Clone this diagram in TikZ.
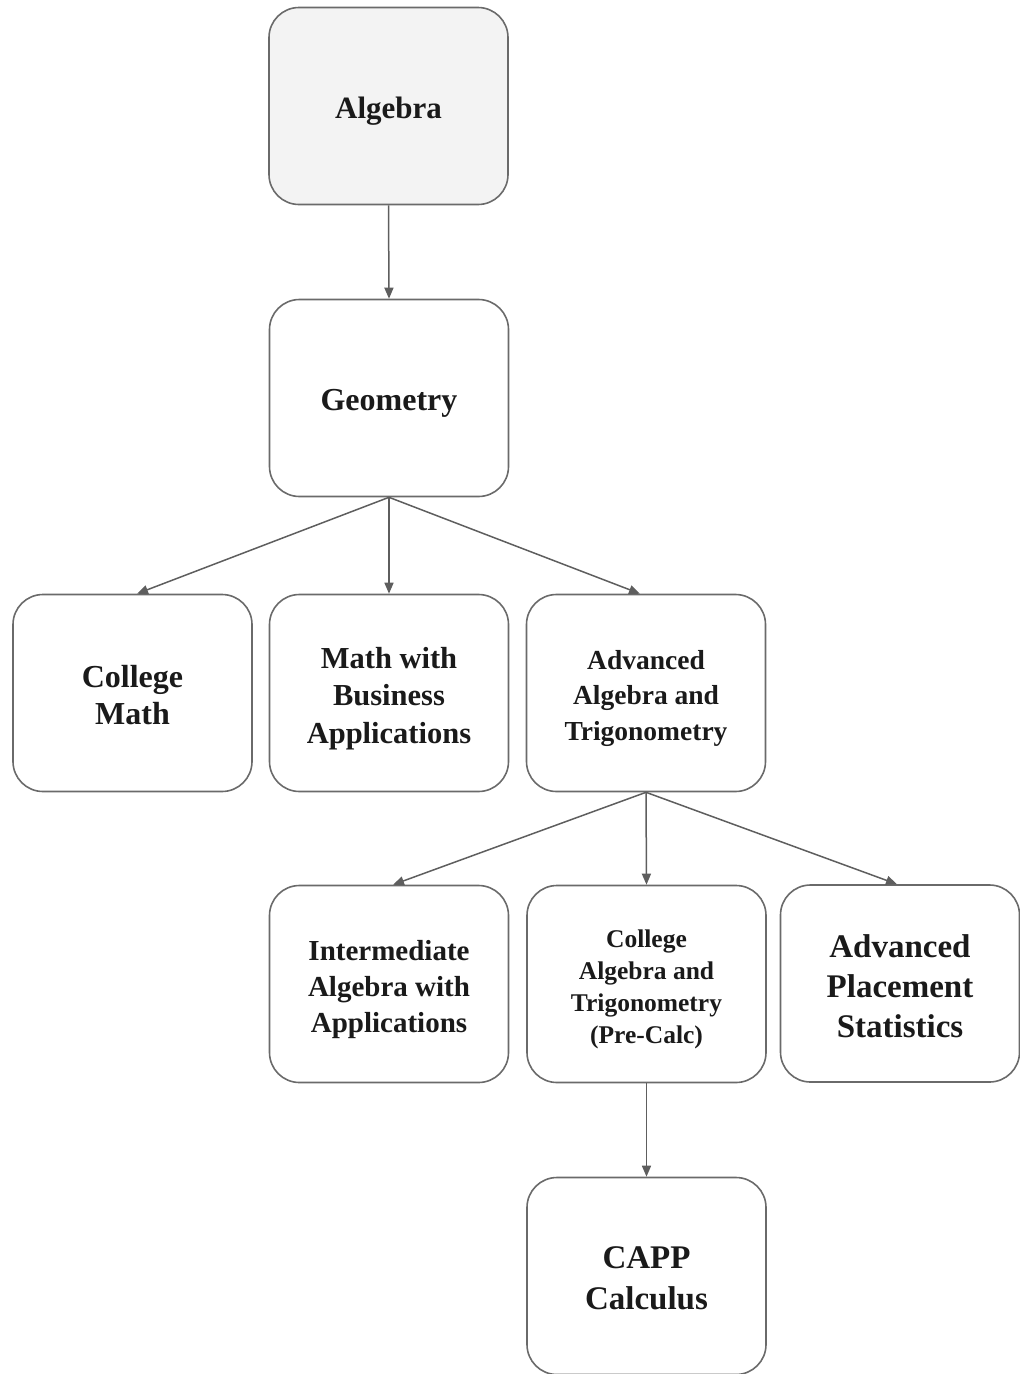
\documentclass[tikz,border=0pt]{standalone}
\usepackage{fontspec}
\setmainfont{Liberation Serif}
\usetikzlibrary{arrows.meta}
\definecolor{edgegray}{HTML}{6A6A6A}
\definecolor{arrowgray}{HTML}{5E5E5E}
\definecolor{textdark}{HTML}{1A1A1A}
\definecolor{topfill}{HTML}{F3F3F3}
\newcommand\fsz[2]{\fontsize{#1}{#2}\selectfont\bfseries}
\tikzset{
  course/.style={draw=edgegray, line width=1.6pt, rounded corners=30pt,
    minimum width=239pt, minimum height=197pt, fill=white, inner sep=0pt},
  txt/.style={align=center, text=textdark, inner sep=0pt},
  link/.style={draw=arrowgray, line width=1.5pt,
    -{Triangle[length=11pt,width=9pt]}}
}
\begin{document}
\begin{tikzpicture}[x=1pt,y=-1pt]
\useasboundingbox (0,0) rectangle (1020,1374);
\node[course, fill=topfill] (alg) at (388.5,106) {};
\node[course] (geo) at (389,398) {};
\node[course] (cm) at (132.5,693) {};
\node[course] (mb) at (389,693) {};
\node[course] (aat) at (646,693) {};
\node[course] (ia) at (389,984) {};
\node[course] (ca) at (646.5,984) {};
\node[course] (aps) at (900,983.5) {};
\node[course] (capp) at (646.5,1276) {};

\node[txt, font=\fsz{31}{37}, yshift=-5pt] (talg) at (alg) {Algebra};
\node[txt, font=\fsz{32}{38}, yshift=-5pt] (tgeo) at (geo) {Geometry};
\node[txt, font=\fsz{32}{37}, yshift=-2.5pt] (tcm) at (cm) {College\\Math};
\node[txt, font=\fsz{30.5}{37.5}, yshift=-5.5pt] (tmb) at (mb) {Math with\\Business\\Applications};
\node[txt, font=\fsz{27.5}{35.5}, yshift=-5pt] (taat) at (aat) {Advanced\\Algebra and\\Trigonometry};
\node[txt, font=\fsz{29}{36}, yshift=-5.5pt] (tia) at (ia) {Intermediate\\Algebra with\\Applications};
\node[txt, font=\fsz{25.5}{32}, yshift=-5pt] (tca) at (ca) {College\\Algebra and\\Trigonometry\\(Pre-Calc)};
\node[txt, font=\fsz{33}{40}, yshift=-3pt] (taps) at (aps) {Advanced\\Placement\\Statistics};
\node[txt, font=\fsz{33}{41}, yshift=-2pt] (tcapp) at (capp) {CAPP\\Calculus};

\draw[link] (alg.south) -- (geo.north);
\draw[link] (geo.south) -- ([xshift=4.5pt]cm.north);
\draw[link] (geo.south) -- (mb.north);
\draw[link] (geo.south) -- ([xshift=-6pt]aat.north);
\draw[link] (aat.south) -- ([xshift=4pt]ia.north);
\draw[link] (aat.south) -- (ca.north);
\draw[link] (aat.south) -- ([xshift=-3pt]aps.north);
\draw[link] (ca.south) -- (capp.north);
\end{tikzpicture}
\end{document}
